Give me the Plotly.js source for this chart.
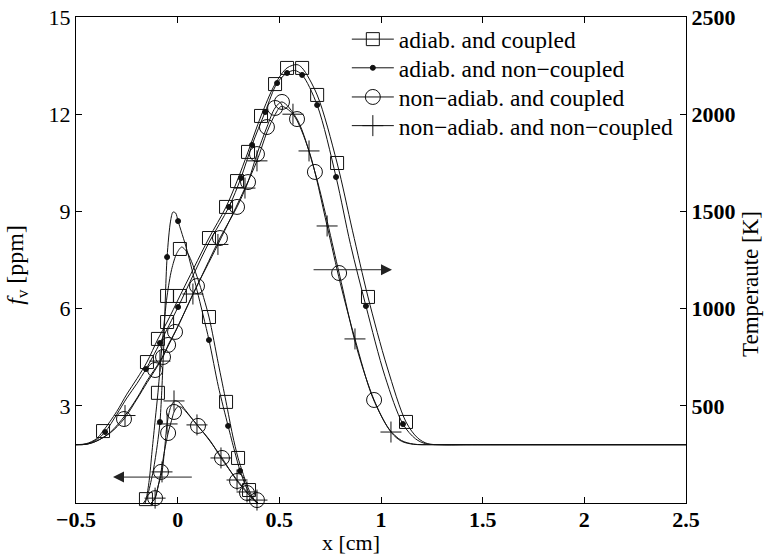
<!DOCTYPE html>
<html>
<head>
<meta charset="utf-8">
<script src="https://cdn.plot.ly/plotly-3.0.1.min.js"></script>
<style>html,body{margin:0;padding:0;background:#fff;}#chart{width:764px;height:556px;}</style>
</head>
<body>
<div id="chart"></div>
<script>
// ---------- Data ----------
// Legend names
const seriesNames = ["adiab. and coupled", "adiab. and non\u2212coupled", "non\u2212adiab. and coupled", "non\u2212adiab. and non\u2212coupled"];

// Temperature curves [K] (right axis) - curve shape points
const xT_adC  = [-0.5,-0.45,-0.4,-0.367,-0.3,-0.25,-0.2,-0.151,-0.097,-0.052,0.011,0.08,0.154,0.238,0.292,0.346,0.41,0.479,0.538,0.587,0.612,0.686,0.784,0.86,0.936,1.03,1.123,1.18,1.23,1.3,1.45,2.5];
const T_adC   = [300,305,330,370,470,560,640,725,844,931,1065,1210,1363,1523,1656,1806,1991,2155,2238,2255,2238,2099,1749,1400,1060,700,417,335,305,300,300,300];
const xT_adN  = [-0.5,-0.45,-0.4,-0.357,-0.3,-0.25,-0.2,-0.156,-0.087,0.002,0.08,0.154,0.252,0.311,0.366,0.43,0.489,0.538,0.575,0.612,0.686,0.779,0.85,0.926,1.02,1.108,1.17,1.22,1.3,1.45,2.5];
const T_adN   = [300,303,325,365,455,540,615,689,823,1008,1180,1340,1523,1672,1842,2011,2160,2212,2225,2202,2047,1677,1330,1013,650,406,330,305,300,300,300];
const xT_naC  = [-0.5,-0.45,-0.4,-0.33,-0.264,-0.2,-0.15,-0.111,-0.072,-0.047,-0.013,0.095,0.208,0.292,0.346,0.39,0.439,0.479,0.513,0.587,0.675,0.794,0.88,0.966,1.04,1.1,1.16,1.25,1.45,2.5];
const T_naC   = [300,302,318,362,432,535,620,684,751,813,880,1116,1363,1523,1651,1795,1934,2032,2063,1975,1703,1183,800,530,380,322,303,300,300,300];
const xT_naN  = [-0.5,-0.45,-0.4,-0.33,-0.259,-0.2,-0.15,-0.087,0.0,0.075,0.198,0.331,0.39,0.44,0.48,0.51,0.567,0.646,0.735,0.8,0.872,0.96,1.049,1.1,1.16,1.25,1.45,2.5];
const T_naN   = [300,302,318,365,450,540,630,730,905,1075,1330,1620,1760,1910,2000,2040,2000,1811,1425,1130,844,540,365,318,302,300,300,300];

// Temperature marker points
const mxT_adC = [-0.367,-0.151,-0.097,-0.052,0.011,0.154,0.238,0.292,0.346,0.41,0.479,0.538,0.612,0.686,0.784,0.936,1.123];
const mT_adC  = [370,725,844,931,1065,1363,1523,1656,1806,1991,2155,2238,2238,2099,1749,1060,417];
const mxT_adN = [-0.357,-0.156,-0.087,0.002,0.252,0.311,0.366,0.43,0.489,0.538,0.612,0.686,0.779,0.926,1.108];
const mT_adN  = [365,689,823,1008,1523,1672,1842,2011,2160,2212,2202,2047,1677,1013,406];
const mxT_naC = [-0.264,-0.111,-0.072,-0.047,-0.013,0.095,0.208,0.292,0.346,0.39,0.439,0.479,0.513,0.587,0.675,0.794,0.966];
const mT_naC  = [432,684,751,813,880,1116,1363,1523,1651,1795,1934,2032,2063,1975,1703,1183,530];
const mxT_naN = [-0.259,-0.087,0.075,0.198,0.331,0.39,0.567,0.646,0.735,0.872,1.049];
const mT_naN  = [450,730,1075,1330,1620,1760,2000,1811,1425,844,365];

// Soot volume fraction curves f_v [ppm] (left axis)
const xF_adC  = [-0.168,-0.156,-0.14,-0.126,-0.11,-0.097,-0.075,-0.052,-0.03,-0.005,0.02,0.05,0.1,0.154,0.2,0.238,0.27,0.297,0.33,0.351,0.375,0.395];
const F_adC   = [0,0.12,0.7,1.6,2.6,3.4,5.0,6.39,7.2,7.7,7.9,7.7,6.9,5.74,4.3,3.12,2.1,1.39,0.75,0.40,0.12,0];
const xF_adN  = [-0.16,-0.145,-0.12,-0.1,-0.087,-0.07,-0.052,-0.035,-0.023,-0.01,0.002,0.046,0.095,0.154,0.2,0.248,0.28,0.307,0.34,0.37,0.39];
const F_adN   = [0,0.3,1.0,1.8,2.5,4.6,7.59,8.7,8.98,8.95,8.7,7.8,6.57,5.03,3.6,2.38,1.6,0.99,0.45,0.12,0];
const xF_naC  = [-0.13,-0.111,-0.095,-0.082,-0.065,-0.047,-0.03,-0.018,0.0,0.02,0.05,0.1,0.16,0.218,0.26,0.292,0.341,0.37,0.395];
const F_naC   = [0,0.15,0.55,0.96,1.6,2.16,2.55,2.81,2.97,2.95,2.75,2.38,1.9,1.39,0.98,0.68,0.31,0.12,0];
const xF_naN  = [-0.13,-0.111,-0.095,-0.077,-0.065,-0.052,-0.035,-0.015,0.005,0.04,0.095,0.16,0.213,0.26,0.292,0.341,0.37,0.395];
const F_naN   = [0,0.15,0.55,0.96,1.6,2.44,2.95,3.15,3.12,2.85,2.41,1.92,1.39,0.98,0.71,0.34,0.12,0];

// f_v marker points
const mxF_adC = [-0.156,-0.097,-0.052,0.011,0.154,0.238,0.297,0.351];
const mF_adC  = [0.12,3.4,6.39,7.84,5.74,3.12,1.39,0.40];
const mxF_adN = [-0.087,-0.052,0.002,0.154,0.248,0.307];
const mF_adN  = [2.5,7.59,8.7,5.03,2.38,0.99];
const mxF_naC = [-0.111,-0.082,-0.047,-0.018,0.1,0.218,0.292,0.341,0.39];
const mF_naC  = [0.15,0.96,2.16,2.81,2.38,1.39,0.68,0.31,0.09];
const mxF_naN = [-0.111,-0.077,-0.052,-0.018,0.095,0.213,0.292,0.341,0.39];
const mF_naN  = [0.15,0.96,2.44,3.15,2.41,1.39,0.71,0.34,0.09];

// Axis ticks and titles
const xTicks = [-0.5,0,0.5,1,1.5,2,2.5];
const xTickText = ["\u22120.5","0","0.5","1","1.5","2","2.5"];
const yTicks = [3,6,9,12,15];
const y2Ticks = [500,1000,1500,2000,2500];
const xTitle = "x [cm]";
const yTitle = "<i>f</i><sub>v</sub> [ppm]";
const y2Title = "Temperaute [K]";

// Arrow annotations (data coordinates)
const fvArrow = {from: 0.077, to: -0.318, level: 0.8};
const TArrow  = {from: 0.661, to: 1.054, level: 1200};

// ---------- Styles ----------
const FONT = "Liberation Serif";
const INK = "#111";
const symbols = ["square-open", "circle", "circle-open", "cross-thin-open"];
const msizes = [13, 5, 15, 15];
const legendIds = ["legend", "legend2", "legend3", "legend4"];
const legendRowY = [0.954, 0.895, 0.835, 0.776];

const curvesT = [[xT_adC,T_adC],[xT_adN,T_adN],[xT_naC,T_naC],[xT_naN,T_naN]];
const marksT  = [[mxT_adC,mT_adC],[mxT_adN,mT_adN],[mxT_naC,mT_naC],[mxT_naN,mT_naN]];
const curvesF = [[xF_adC,F_adC],[xF_adN,F_adN],[xF_naC,F_naC],[xF_naN,F_naN]];
const marksF  = [[mxF_adC,mF_adC],[mxF_adN,mF_adN],[mxF_naC,mF_naC],[mxF_naN,mF_naN]];

function markerStyle(i){
  return {symbol: symbols[i], size: msizes[i], color: INK, line: {color: INK, width: 1}};
}

const traces = [];
for (let i = 0; i < 4; i++) {
  traces.push({x: curvesT[i][0], y: curvesT[i][1], yaxis: 'y2', mode: 'lines', line: {color: INK, width: 1, shape: 'spline', smoothing: 0.9}, showlegend: false, hoverinfo: 'skip'});
  traces.push({x: marksT[i][0], y: marksT[i][1], yaxis: 'y2', mode: 'markers', marker: markerStyle(i), showlegend: false, cliponaxis: false});
  traces.push({x: curvesF[i][0], y: curvesF[i][1], yaxis: 'y', mode: 'lines', line: {color: INK, width: 1, shape: 'spline', smoothing: 0.8}, showlegend: false, hoverinfo: 'skip'});
  traces.push({x: marksF[i][0], y: marksF[i][1], yaxis: 'y', mode: 'markers', marker: markerStyle(i), showlegend: false, cliponaxis: false});
}
for (let i = 0; i < 4; i++) {
  traces.push({x: [null], y: [null], mode: 'lines+markers', name: seriesNames[i], legend: legendIds[i],
               line: {color: INK, width: 1}, marker: markerStyle(i), showlegend: true});
}

const layout = {
  width: 764, height: 556,
  margin: {l: 76, r: 78, t: 17, b: 53},
  paper_bgcolor: '#fff', plot_bgcolor: '#fff',
  font: {family: FONT, color: '#000'},
  showlegend: true,
  xaxis: {range: [-0.5, 2.5], tickvals: xTicks, ticktext: xTickText, ticks: 'inside', ticklen: 6, tickcolor: '#000',
          showline: true, linecolor: '#000', linewidth: 1, mirror: 'ticks', showgrid: false, zeroline: false,
          ticklabelstandoff: -3,
          tickfont: {family: FONT, size: 22, weight: 'bold'}},
  yaxis: {range: [0, 15], tickvals: yTicks, ticks: 'inside', ticklen: 6, tickcolor: '#000',
          showline: true, linecolor: '#000', linewidth: 1, showgrid: false, zeroline: false,
          tickfont: {family: FONT, size: 22}},
  yaxis2: {range: [0, 2500], tickvals: y2Ticks, overlaying: 'y', side: 'right', ticks: 'inside', ticklen: 6, tickcolor: '#000',
           showline: true, linecolor: '#000', linewidth: 1, showgrid: false, zeroline: false,
           tickfont: {family: FONT, size: 22, weight: 'bold'}},
  annotations: [
    {x: fvArrow.to, y: fvArrow.level, ax: fvArrow.from, ay: fvArrow.level, xref: 'x', yref: 'y', axref: 'x', ayref: 'y',
     text: '', showarrow: true, arrowhead: 2, arrowsize: 2.2, arrowwidth: 1, arrowcolor: '#222'},
    {x: TArrow.to, y: TArrow.level, ax: TArrow.from, ay: TArrow.level, xref: 'x', yref: 'y2', axref: 'x', ayref: 'y2',
     text: '', showarrow: true, arrowhead: 2, arrowsize: 2.2, arrowwidth: 1, arrowcolor: '#222'},
    {text: xTitle, xref: 'paper', yref: 'paper', x: 0.451, y: -0.082, xanchor: 'center', yanchor: 'middle',
     showarrow: false, font: {family: FONT, size: 22, color: '#000'}},
    {text: yTitle, xref: 'paper', yref: 'paper', x: -0.097, y: 0.49, xanchor: 'center', yanchor: 'middle', textangle: -90,
     showarrow: false, font: {family: FONT, size: 24, color: '#000'}},
    {text: y2Title, xref: 'paper', yref: 'paper', x: 1.106, y: 0.45, xanchor: 'center', yanchor: 'middle', textangle: -90,
     showarrow: false, font: {family: FONT, size: 23, color: '#000'}}
  ]
};
for (let i = 0; i < 4; i++) {
  layout[legendIds[i]] = {x: 0.444, y: legendRowY[i], xanchor: 'left', yanchor: 'middle', bgcolor: 'rgba(0,0,0,0)', borderwidth: 0,
                          font: {family: FONT, size: 23.5, color: '#000'}, itemwidth: 42};
}

Plotly.newPlot('chart', traces, layout, {staticPlot: true, displayModeBar: false});
</script>
</body>
</html>
